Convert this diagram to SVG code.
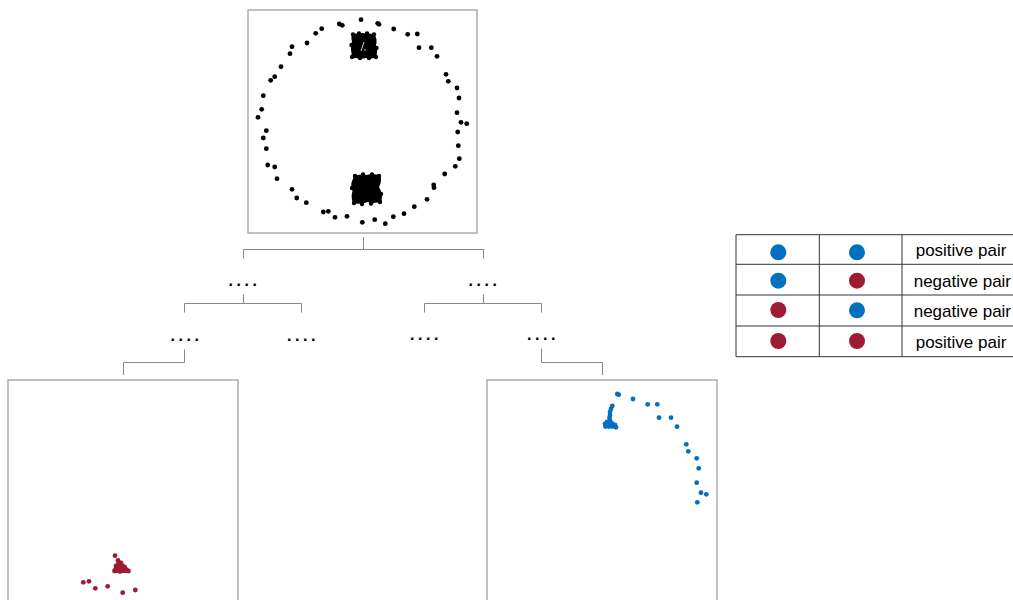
<svg xmlns="http://www.w3.org/2000/svg" width="1013" height="600" viewBox="0 0 1013 600">
<defs>
<style>
.box{fill:#fff;stroke:#a0a0a0;stroke-width:1.3}
.k{fill:#000}
.r{fill:#9e1b32}
.b{fill:#0070c0}
.conn{fill:none;stroke:#888;stroke-width:1}
.dots{font-family:"Liberation Sans",Arial,sans-serif;font-size:16px;font-weight:bold;letter-spacing:3.55px;fill:#000}
.tl{fill:none;stroke:#333;stroke-width:1}
.tt{font-family:"Liberation Sans",Arial,sans-serif;font-size:17px;fill:#000}
</style>
</defs>
<rect width="1013" height="600" fill="#fff"/>

<g id="root-plot">
<rect class="box" x="248" y="10" width="229" height="223"/>
<g class="k">
<circle cx="361" cy="19.7" r="2.4"/><circle cx="339.3" cy="24" r="2.4"/><circle cx="342.3" cy="25.3" r="2.4"/>
<circle cx="377.7" cy="23.3" r="2.4"/><circle cx="379" cy="24.3" r="2.4"/><circle cx="321.7" cy="28.7" r="2.4"/>
<circle cx="315.7" cy="33.3" r="2.4"/><circle cx="393.7" cy="29" r="2.4"/><circle cx="407.7" cy="34.3" r="2.4"/>
<circle cx="417.3" cy="34" r="2.4"/><circle cx="307" cy="43" r="2.4"/><circle cx="292" cy="46.7" r="2.4"/>
<circle cx="290" cy="53.7" r="2.4"/><circle cx="419" cy="47.7" r="2.4"/><circle cx="431.3" cy="47.7" r="2.4"/>
<circle cx="437" cy="56.3" r="2.4"/><circle cx="281" cy="66.7" r="2.4"/><circle cx="274.7" cy="76.7" r="2.4"/>
<circle cx="270.7" cy="80.3" r="2.4"/><circle cx="446" cy="74.3" r="2.4"/><circle cx="448.3" cy="81.3" r="2.4"/>
<circle cx="457" cy="88" r="2.4"/><circle cx="459" cy="98" r="2.4"/><circle cx="263.3" cy="95.7" r="2.4"/>
<circle cx="261.7" cy="109.3" r="2.4"/><circle cx="258" cy="117.3" r="2.4"/><circle cx="457" cy="112.7" r="2.4"/>
<circle cx="461" cy="122.3" r="2.4"/><circle cx="466.7" cy="123.7" r="2.4"/><circle cx="266.3" cy="130.7" r="2.4"/>
<circle cx="263.3" cy="138" r="2.4"/><circle cx="266.3" cy="148.7" r="2.4"/><circle cx="457.7" cy="132" r="2.4"/>
<circle cx="458.3" cy="145.7" r="2.4"/><circle cx="459.3" cy="158.7" r="2.4"/><circle cx="455.3" cy="166.3" r="2.4"/>
<circle cx="267.7" cy="165" r="2.4"/><circle cx="274.7" cy="167" r="2.4"/><circle cx="277" cy="178.7" r="2.4"/>
<circle cx="444.7" cy="174" r="2.4"/><circle cx="433.7" cy="185" r="2.4"/><circle cx="434" cy="187.7" r="2.4"/>
<circle cx="292" cy="189.3" r="2.4"/><circle cx="296.7" cy="198" r="2.4"/><circle cx="306.3" cy="202.7" r="2.4"/>
<circle cx="427" cy="199.3" r="2.4"/><circle cx="414.3" cy="206.7" r="2.4"/><circle cx="404" cy="213.7" r="2.4"/>
<circle cx="323.3" cy="212" r="2.4"/><circle cx="328.3" cy="211.3" r="2.4"/><circle cx="335" cy="217.3" r="2.4"/>
<circle cx="347" cy="216.3" r="2.4"/><circle cx="362.3" cy="222.3" r="2.4"/><circle cx="374.7" cy="219.7" r="2.4"/>
<circle cx="385.3" cy="223.7" r="2.4"/><circle cx="393.3" cy="216.7" r="2.4"/>
<!-- top cluster -->
<path d="M352,35 Q355,32.5 358,34 Q362,32 366,34 Q371,32.5 375,35 Q377.5,40 376,45 Q378,51 376.5,57 Q371,59.5 366,58 Q361,59.5 356,58 Q351,59 351.5,53 Q350,47 352,42 Q350.5,38 352,35 Z"/>
<circle cx="353" cy="34.5" r="2.2"/><circle cx="359" cy="33.5" r="2.2"/><circle cx="367" cy="33.5" r="2.2"/><circle cx="374" cy="34.5" r="2.2"/>
<circle cx="352" cy="57" r="2.2"/><circle cx="360" cy="58" r="2.2"/><circle cx="369" cy="58" r="2.2"/><circle cx="376" cy="57" r="2.2"/>
<circle cx="351.5" cy="45" r="2.2"/><circle cx="376.5" cy="48" r="2.2"/>
<!-- bottom cluster -->
<path d="M354,176 Q360,173.5 366,175 Q372,173.5 380,175 Q382.5,181 379,187 Q383,193 381.5,201 Q375,204.5 368,202 Q361,205 353,203 Q350.5,197 352.5,191 Q350,185 352.5,180 Z"/>
<circle cx="355" cy="176" r="2.2"/><circle cx="363" cy="174.5" r="2.2"/><circle cx="372" cy="174.5" r="2.2"/><circle cx="379" cy="176" r="2.2"/>
<circle cx="354" cy="203" r="2.2"/><circle cx="362" cy="204" r="2.2"/><circle cx="371" cy="203.5" r="2.2"/><circle cx="380" cy="202" r="2.2"/>
<circle cx="352" cy="188" r="2.2"/><circle cx="381" cy="194" r="2.2"/>
</g>
<path d="M364,42 L361,51" stroke="#fff" stroke-width="1" fill="none" opacity="0.8"/>
<circle cx="365" cy="50" r="0.8" fill="#fff" opacity="0.8"/>
</g>

<g id="connectors" class="conn">
<path d="M363.5,237 V249.5 M243.5,258.5 V249.5 H483.5 V258.5"/>
<path d="M243.5,294.5 V303.5 M184.5,312.5 V303.5 H301.5 V312.5"/>
<path d="M483.5,294.5 V303.5 M424.5,312.5 V303.5 H541.5 V312.5"/>
<path d="M184.5,349.5 V362.5 H123.5 V375"/>
<path d="M541.5,348.5 V362.5 H602.5 V375"/>
</g>

<g id="level1-left"><text class="dots" x="228.5" y="286">....</text></g>
<g id="level1-right"><text class="dots" x="468.5" y="286">....</text></g>
<g id="level2-ll"><text class="dots" x="170.5" y="341">....</text></g>
<g id="level2-lr"><text class="dots" x="287" y="341">....</text></g>
<g id="level2-rl"><text class="dots" x="410" y="340.3">....</text></g>
<g id="level2-rr"><text class="dots" x="527" y="340.3">....</text></g>

<g id="leaf-red">
<rect class="box" x="8" y="380" width="230" height="230"/>
<g class="r">
<circle cx="115" cy="555.7" r="2.4"/>
<path d="M117,559 L121,561 L126,566 L130,570 L129,573 L121,573 L113,573 L113,569 L116,564 Z"/>
<circle cx="118" cy="560.5" r="2.4"/><circle cx="116" cy="566" r="2.4"/><circle cx="121" cy="563" r="2.4"/>
<circle cx="114.5" cy="571" r="2.4"/><circle cx="124.5" cy="567" r="2.4"/><circle cx="128.5" cy="571" r="2.4"/>
<circle cx="120" cy="571.5" r="2.4"/>
<circle cx="83.3" cy="582.3" r="2.4"/><circle cx="89" cy="581.3" r="2.4"/><circle cx="95.3" cy="588.3" r="2.4"/>
<circle cx="107.7" cy="586.3" r="2.4"/><circle cx="122.7" cy="592.7" r="2.4"/><circle cx="135.3" cy="590" r="2.4"/>
</g>
</g>

<g id="leaf-blue">
<rect class="box" x="487" y="380" width="230" height="230"/>
<g class="b">
<circle cx="617.3" cy="394" r="2.4"/><circle cx="618.7" cy="394.7" r="2.4"/><circle cx="633" cy="399" r="2.4"/>
<circle cx="647.7" cy="404.3" r="2.4"/><circle cx="657.3" cy="404.3" r="2.4"/><circle cx="659" cy="417.7" r="2.4"/>
<circle cx="671" cy="417.7" r="2.4"/><circle cx="677" cy="426.7" r="2.4"/><circle cx="686.3" cy="444.3" r="2.4"/>
<circle cx="688.3" cy="451.3" r="2.4"/><circle cx="696.7" cy="458.3" r="2.4"/><circle cx="698.7" cy="468.3" r="2.4"/>
<circle cx="696.7" cy="482.7" r="2.4"/><circle cx="701" cy="492.7" r="2.4"/><circle cx="706.3" cy="494.3" r="2.4"/>
<circle cx="697.3" cy="502.3" r="2.4"/>
<circle cx="612.3" cy="406" r="2.4"/><circle cx="611" cy="409" r="2.4"/><circle cx="610" cy="412" r="2.4"/>
<circle cx="610" cy="415" r="2.4"/><circle cx="609.5" cy="418" r="2.4"/><circle cx="610" cy="420.5" r="2.4"/>
<circle cx="607" cy="422" r="2.4"/><circle cx="605" cy="424" r="2.4"/><circle cx="609" cy="424" r="2.4"/>
<circle cx="612" cy="423.5" r="2.4"/><circle cx="615" cy="425" r="2.4"/><circle cx="605.5" cy="426.5" r="2.4"/>
<circle cx="609" cy="426.5" r="2.4"/><circle cx="612.5" cy="426.5" r="2.4"/><circle cx="616" cy="427.3" r="2.4"/>
</g>
</g>

<g id="legend">
<path class="tl" d="M736,234.7 H1013 M736,264.3 H1013 M736,295 H1013 M736,326 H1013 M736,356.7 H1013 M736,234.7 V356.7 M819.3,234.7 V356.7 M902,234.7 V356.7"/>
<circle class="b" cx="778.3" cy="252.3" r="8"/><circle class="b" cx="857" cy="252.3" r="8"/>
<circle class="b" cx="778.3" cy="280.7" r="8"/><circle class="r" cx="857" cy="280.7" r="8"/>
<circle class="r" cx="778.3" cy="310" r="8"/><circle class="b" cx="857" cy="310.3" r="8"/>
<circle class="r" cx="778.3" cy="341" r="8"/><circle class="r" cx="857" cy="341" r="8"/>
<text class="tt" x="915.7" y="256">positive pair</text>
<text class="tt" x="913.7" y="286.5">negative pair</text>
<text class="tt" x="913.7" y="317">negative pair</text>
<text class="tt" x="915.7" y="347.5">positive pair</text>
</g>
</svg>
